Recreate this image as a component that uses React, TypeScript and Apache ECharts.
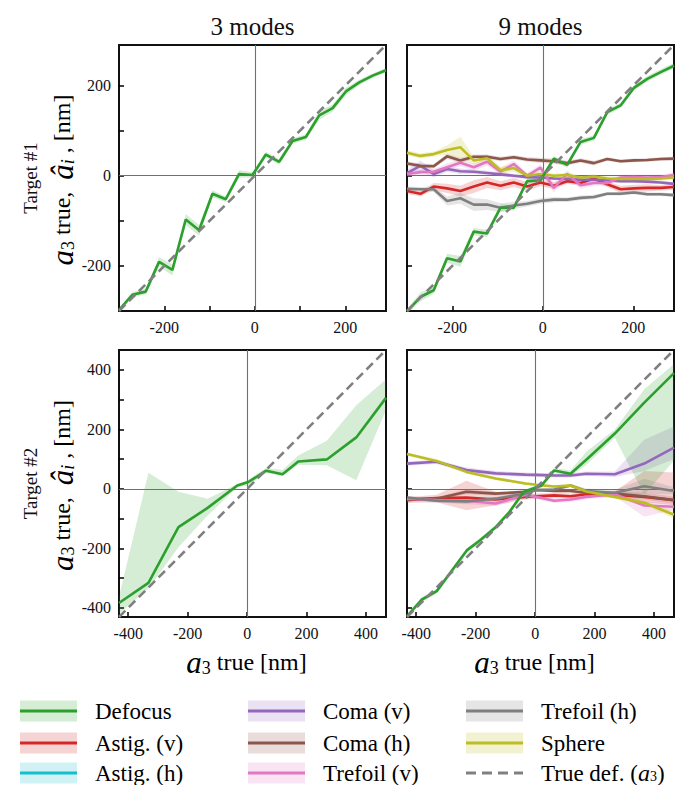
import React, { useEffect, useRef } from "react";
import * as echarts from "echarts";

const FONT = "Liberation Serif";

// ---------- x positions ----------
const TOP_X = [-300, -270.5, -241, -211.5, -182, -152.5, -123, -93.5, -64, -34.5, -5, 24.5, 54, 83.5, 113, 142.5, 172, 201.5, 231, 260.5, 290];
const BOTTOM_X = [-431, -332, -231, -133, -33, 4, 64, 119, 172, 268, 367, 467];
const BR_DEF_X = [-431, -382, -331, -281, -230, -185, -134, -89, -38, -2, 20, 64, 119, 172, 268, 367, 467];

const TOP_RANGE = [-300, 290];
const BOTTOM_RANGE = [-431, 467];

// ---------- ticks ----------
const TL_TICKS = [-200, -100, 0, 100, 200];
const TOP_LABELS = [-200, 0, 200];
const TR_TICKS = [-200, 0, 200];
const BOTTOM_X_TICKS = [-400, -200, 0, 200, 400];
const BOTTOM_LABELS = [-400, -200, 0, 200, 400];
const BL_Y_TICKS = [-400, -300, -200, -100, 0, 100, 200, 300, 400];
const BR_Y_TICKS = [-400, -200, 0, 200, 400];

// ---------- texts ----------
const PANEL_TITLES = ["3 modes", "9 modes"];
const ROW_TITLES = ["Target #1", "Target #2"];
const MODE_NAMES = ["Defocus", "Astig. (v)", "Astig. (h)", "Coma (v)", "Coma (h)", "Trefoil (v)", "Trefoil (h)", "Sphere"];
const TRUE_NAME = "True def. ";
const MODE_COLORS = ["#2ca02c", "#d62728", "#17becf", "#9467bd", "#8c564b", "#e377c2", "#7f7f7f", "#bcbd22"];
const TRUE_COLOR = "#808080";

// ---------- Top-left (3 modes, target 1) ----------
const TL_DEFOCUS = [-298, -264, -257, -191, -209, -97, -121, -40, -52, 4, 1.5, 47, 31, 77, 86, 134, 150, 187, 207, 222, 234];
const TL_DEFOCUS_SPREAD = [4, 6, 6, 10, 12, 12, 12, 8, 6, 8, 6, 6, 6, 6, 6, 10, 8, 8, 6, 5, 5];

// ---------- Top-right (9 modes, target 1) ----------
const TR_DEFOCUS = [-301, -269, -254, -183, -190, -124, -128, -71, -71, -12, -10, 38, 24, 75, 84, 141, 156, 195, 215, 230, 244];
const TR_ASTIG_V = [-34, -40, -24, -28, -34, -24, -15, -22, -15, -24, -15, -22, -12, -16, -6, -19, -30, -28, -27, -27, -25];
const TR_COMA_V = [6, 22, 4, 15, 10, 9, 6, 3, 0, -3, -4, -6, -7, -9, -9, -10, -12, -12, -13, -15, -18];
const TR_COMA_H = [27, 22, 21, 43, 34, 42, 42, 37, 41, 36, 34, 32, 28, 34, 28, 37, 32, 34, 35, 37, 38];
const TR_TREFOIL_V = [4, 8, 9, 19, 29, 19, 31, 9, 26, 0, 18, -27, 4, -21, -16, -16, -4, -3, -4, -3, 1.5];
const TR_TREFOIL_H = [-29, -30, -30, -56, -50, -64, -64, -71, -66, -62, -56, -53, -53, -49, -47, -40, -40, -37, -41, -41, -43];
const TR_SPHERE = [51, 44, 48, 57, 63, 34, 39, 12, 17, 0, 4, 0, 1.5, -4, -1.5, -6, -7, -7, -7, -6, -4];

const TR_DEFOCUS_SPREAD = [5, 10, 8, 10, 12, 8, 8, 8, 6, 6, 6, 6, 6, 6, 6, 6, 6, 6, 6, 6, 6];
const TR_ASTIG_V_SPREAD = [6, 6, 8, 10, 12, 14, 12, 10, 10, 10, 8, 8, 6, 6, 6, 6, 8, 8, 8, 6, 6];
const TR_COMA_V_SPREAD = [6, 12, 8, 6, 6, 5, 5, 4, 4, 4, 4, 4, 4, 4, 4, 4, 4, 4, 4, 4, 4];
const TR_COMA_H_SPREAD = [5, 5, 5, 6, 6, 5, 5, 5, 5, 5, 6, 6, 5, 5, 5, 4, 4, 4, 4, 4, 4];
const TR_TREFOIL_V_SPREAD = [6, 6, 6, 8, 8, 8, 8, 8, 8, 6, 8, 10, 8, 8, 6, 6, 6, 6, 6, 6, 6];
const TR_TREFOIL_H_SPREAD = [5, 5, 6, 10, 12, 14, 12, 10, 8, 6, 6, 6, 5, 5, 5, 4, 4, 4, 4, 4, 4];
const TR_SPHERE_SPREAD = [6, 6, 6, 10, 24, 8, 8, 8, 8, 6, 6, 5, 5, 5, 5, 5, 5, 5, 5, 5, 5];

// ---------- Bottom-left (3 modes, target 2) ----------
const BL_DEFOCUS = [-384, -316, -129, -64, 11, 23, 61, 49, 92, 99, 173, 306];
const BL_DEFOCUS_HI = [-364, 54, -10, -33, 16, 31, 70, 63, 112, 162, 281, 369];
const BL_DEFOCUS_LO = [-420, -335, -196, -90, 5, 12, 54, 43, 81, 79, 29, 265];

// ---------- Bottom-right (9 modes, target 2) ----------
const BR_DEFOCUS = [-429, -373, -344, -276, -207, -173, -130, -81, -10, 3, 10, 62, 51, 98, 186, 290, 389];
const BR_DEFOCUS_HI = [-420, -365, -336, -268, -200, -165, -122, -73, -3, 10, 17, 70, 62, 125, 200, 335, 420];
const BR_DEFOCUS_LO = [-437, -381, -352, -284, -214, -181, -138, -89, -17, -4, 3, 55, 44, 80, 172, -20, 95];

const BR_ASTIG_V = [-38, -31, -29, -36, -27, -25, -22, -25, -18, -20, -27, -38];
const BR_ASTIG_V_HI = [-28, -20, 27, -10, -18, -16, -14, -16, -10, -8, 60, 55];
const BR_ASTIG_V_LO = [-48, -45, -72, -55, -36, -34, -30, -34, -26, -30, -45, -55];
const BR_COMA_V = [85, 91, 63, 52, 48, 47, 45, 45, 51, 49, 85, 139];
const BR_COMA_V_HI = [92, 98, 72, 60, 55, 54, 52, 53, 58, 58, 165, 210];
const BR_COMA_V_LO = [78, 84, 55, 44, 41, 40, 38, 38, 44, 40, 60, 100];
const BR_COMA_H = [-36, -33, -10, -16, -10, -4, -7, -7, -13, -16, -25, -38];
const BR_COMA_H_SPREAD = [6, 6, 8, 6, 5, 5, 5, 5, 6, 8, 12, 12];
const BR_TREFOIL_V = [-33, -38, -40, -49, -21, -27, -40, -36, -27, -18, -56, -60];
const BR_TREFOIL_V_HI = [-25, -30, -30, -40, -13, -19, -32, -28, -19, -10, -40, -50];
const BR_TREFOIL_V_LO = [-41, -46, -52, -58, -29, -35, -48, -44, -35, -26, -94, -70];
const BR_TREFOIL_H = [-29, -40, -42, -33, -16, -4, -2, 11, -7, -13, 9, -7];
const BR_TREFOIL_H_SPREAD = [6, 6, 8, 6, 5, 5, 5, 6, 8, 10, 25, 12];
const BR_SPHERE = [117, 94, 57, 35, 18, 14, 8, 11, -9, -27, -47, -87];
const BR_SPHERE_SPREAD = [6, 6, 6, 5, 5, 5, 5, 5, 6, 6, 8, 13];

// ---------- layout ----------
const GRIDS = [
  { left: 119, top: 45, width: 267, height: 266 },
  { left: 407, top: 45, width: 267, height: 266 },
  { left: 119, top: 350, width: 267, height: 267 },
  { left: 407, top: 350, width: 267, height: 267 },
];

function rgba(hex: string, a: number) {
  const n = parseInt(hex.slice(1), 16);
  return `rgba(${(n >> 16) & 255},${(n >> 8) & 255},${n & 255},${a})`;
}

type Spec = { mode: number; x: number[]; y: number[]; lo: number[]; hi: number[] };

function sym(mode: number, x: number[], y: number[], s: number[]): Spec {
  return { mode, x, y, lo: y.map((v, i) => v - s[i]), hi: y.map((v, i) => v + s[i]) };
}

const PANELS: Spec[][] = [
  [sym(0, TOP_X, TL_DEFOCUS, TL_DEFOCUS_SPREAD)],
  [
    sym(1, TOP_X, TR_ASTIG_V, TR_ASTIG_V_SPREAD),
    sym(3, TOP_X, TR_COMA_V, TR_COMA_V_SPREAD),
    sym(4, TOP_X, TR_COMA_H, TR_COMA_H_SPREAD),
    sym(5, TOP_X, TR_TREFOIL_V, TR_TREFOIL_V_SPREAD),
    sym(6, TOP_X, TR_TREFOIL_H, TR_TREFOIL_H_SPREAD),
    sym(7, TOP_X, TR_SPHERE, TR_SPHERE_SPREAD),
    sym(0, TOP_X, TR_DEFOCUS, TR_DEFOCUS_SPREAD),
  ],
  [{ mode: 0, x: BOTTOM_X, y: BL_DEFOCUS, lo: BL_DEFOCUS_LO, hi: BL_DEFOCUS_HI }],
  [
    { mode: 1, x: BOTTOM_X, y: BR_ASTIG_V, lo: BR_ASTIG_V_LO, hi: BR_ASTIG_V_HI },
    { mode: 3, x: BOTTOM_X, y: BR_COMA_V, lo: BR_COMA_V_LO, hi: BR_COMA_V_HI },
    sym(4, BOTTOM_X, BR_COMA_H, BR_COMA_H_SPREAD),
    { mode: 5, x: BOTTOM_X, y: BR_TREFOIL_V, lo: BR_TREFOIL_V_LO, hi: BR_TREFOIL_V_HI },
    sym(6, BOTTOM_X, BR_TREFOIL_H, BR_TREFOIL_H_SPREAD),
    sym(7, BOTTOM_X, BR_SPHERE, BR_SPHERE_SPREAD),
    { mode: 0, x: BR_DEF_X, y: BR_DEFOCUS, lo: BR_DEFOCUS_LO, hi: BR_DEFOCUS_HI },
  ],
];

const RANGES = [TOP_RANGE, TOP_RANGE, BOTTOM_RANGE, BOTTOM_RANGE];
const X_TICKS = [TL_TICKS, TR_TICKS, BOTTOM_X_TICKS, BOTTOM_X_TICKS];
const X_LABELS = [TOP_LABELS, TOP_LABELS, BOTTOM_LABELS, BOTTOM_LABELS];
const Y_TICKS = [TL_TICKS, TR_TICKS, BL_Y_TICKS, BR_Y_TICKS];
const Y_LABELS = [TOP_LABELS, [], BOTTOM_LABELS, []];

function makeAxis(g: number, range: number[], ticks: number[], labels: number[]) {
  return {
    type: "value",
    gridIndex: g,
    min: range[0],
    max: range[1],
    axisLine: { show: false, onZero: false },
    splitLine: { show: false },
    axisTick: {
      show: true,
      inside: true,
      length: 5,
      customValues: ticks,
      lineStyle: { color: "#000", width: 1.5 },
    },
    axisLabel: {
      show: labels.length > 0,
      customValues: labels,
      fontFamily: FONT,
      fontSize: 16,
      color: "#111",
      margin: 8,
      formatter: (v: number) => String(v),
    },
  };
}

const MATH_RICH = {
  t: { fontSize: 24, fontFamily: FONT, color: "#111", lineHeight: 30 },
  it: { fontSize: 31, fontFamily: FONT, fontStyle: "italic", color: "#111", lineHeight: 30 },
  sub: { fontSize: 18, fontFamily: FONT, color: "#111", lineHeight: 16, verticalAlign: "bottom" },
  subi: { fontSize: 18, fontFamily: FONT, fontStyle: "italic", color: "#111", lineHeight: 16, verticalAlign: "bottom" },
};

const LEGEND_RICH = {
  t: { fontSize: 23, fontFamily: FONT, color: "#111", lineHeight: 20 },
  it: { fontSize: 24, fontFamily: FONT, fontStyle: "italic", color: "#111", lineHeight: 20 },
  sub: { fontSize: 14, fontFamily: FONT, color: "#111", lineHeight: 10, verticalAlign: "bottom" },
};

function buildOption() {
  const series: any[] = [];
  PANELS.forEach((specs, g) => {
    const range = RANGES[g];
    specs.forEach((s) => {
      const data = s.x.map((x, i) => [x, s.lo[i], s.hi[i]]);
      const color = MODE_COLORS[s.mode];
      series.push({
        type: "custom",
        xAxisIndex: g,
        yAxisIndex: g,
        silent: true,
        clip: true,
        z: 1,
        data,
        encode: { x: 0, y: [1, 2] },
        renderItem: (params: any, api: any) => {
          if (params.dataIndex !== 0) return null;
          const pts: number[][] = [];
          for (let i = 0; i < data.length; i++) pts.push(api.coord([data[i][0], data[i][2]]));
          for (let i = data.length - 1; i >= 0; i--) pts.push(api.coord([data[i][0], data[i][1]]));
          return { type: "polygon", shape: { points: pts }, style: { fill: rgba(color, 0.2) } };
        },
      });
    });
    specs.forEach((s) => {
      series.push({
        type: "line",
        xAxisIndex: g,
        yAxisIndex: g,
        silent: true,
        clip: true,
        symbol: "none",
        z: 3,
        data: s.x.map((x, i) => [x, s.y[i]]),
        lineStyle: { color: MODE_COLORS[s.mode], width: 2.6 },
        itemStyle: { color: MODE_COLORS[s.mode] },
      });
    });
    series.push({
      type: "line",
      xAxisIndex: g,
      yAxisIndex: g,
      silent: true,
      clip: true,
      symbol: "none",
      z: 4,
      data: [
        [range[0], range[0]],
        [range[1], range[1]],
      ],
      lineStyle: { color: TRUE_COLOR, width: 2.6, type: [9, 5] },
      markLine: {
        silent: true,
        z: 2,
        symbol: ["none", "none"],
        label: { show: false },
        lineStyle: { color: "#707070", width: 1.1, type: "solid" },
        data: [{ xAxis: 0 }, { yAxis: 0 }],
      },
    });
  });

  const graphic: any[] = [];
  const txt = (font: string) => ({ font: `${font} ${FONT}`, fill: "#111" });
  PANEL_TITLES.forEach((t, i) => {
    const g = GRIDS[i];
    graphic.push({
      type: "text",
      x: g.left + g.width / 2,
      y: 26,
      style: { text: t, x: 0, y: 0, align: "center", verticalAlign: "middle", textAlign: "center", textVerticalAlign: "middle", ...txt("25px") },
    });
  });
  ROW_TITLES.forEach((t, r) => {
    const g = GRIDS[r * 2];
    const cy = g.top + g.height / 2;
    graphic.push({
      type: "text",
      x: 30,
      y: cy,
      rotation: Math.PI / 2,
      style: { text: t, x: 0, y: 0, align: "center", verticalAlign: "middle", textAlign: "center", textVerticalAlign: "middle", ...txt("19px") },
    });
    graphic.push({
      type: "text",
      x: 62,
      y: cy + 2,
      rotation: Math.PI / 2,
      style: {
        text: "{it|a}{sub|3}{t| true,  }{it|â}{subi|i}{t| , [nm]}",
        rich: MATH_RICH,
        x: 0,
        y: 0,
        align: "center",
        verticalAlign: "middle",
        textAlign: "center",
        textVerticalAlign: "middle",
      },
    });
  });
  [2, 3].forEach((gi) => {
    const g = GRIDS[gi];
    graphic.push({
      type: "text",
      x: g.left + g.width / 2 - 6,
      y: 662,
      style: {
        text: "{it|a}{sub|3}{t| true [nm]}",
        rich: MATH_RICH,
        x: 0,
        y: 0,
        align: "center",
        verticalAlign: "middle",
        textAlign: "center",
        textVerticalAlign: "middle",
      },
    });
  });

  const colX = [20, 248, 466];
  const rowY = [711, 743, 773];
  const entries = MODE_NAMES.map((n, i) => ({ text: `{t|${n}}`, color: MODE_COLORS[i], dashed: false }));
  entries.push({ text: `{t|${TRUE_NAME}(}{it|a}{sub|3}{t|)}`, color: TRUE_COLOR, dashed: true });
  entries.forEach((e, i) => {
    const x = colX[Math.floor(i / 3)];
    const y = rowY[i % 3];
    if (!e.dashed) {
      graphic.push({ type: "rect", shape: { x, y: y - 10.5, width: 57, height: 21 }, style: { fill: rgba(e.color, 0.2) } });
    }
    graphic.push({
      type: "line",
      shape: { x1: x, y1: y, x2: x + 57, y2: y },
      style: { stroke: e.color, lineWidth: 3, lineDash: e.dashed ? [10, 6] : null },
    });
    graphic.push({
      type: "text",
      x: x + 75,
      y: y,
      style: { text: e.text, rich: LEGEND_RICH, x: 0, y: 0, align: "left", verticalAlign: "middle", textAlign: "left", textVerticalAlign: "middle" },
    });
  });

  return {
    animation: false,
    backgroundColor: "#fff",
    grid: GRIDS.map((g) => ({ ...g, show: true, borderColor: "#111", borderWidth: 2, backgroundColor: "transparent" })),
    xAxis: GRIDS.map((_, g) => makeAxis(g, RANGES[g], X_TICKS[g], X_LABELS[g])),
    yAxis: GRIDS.map((_, g) => makeAxis(g, RANGES[g], Y_TICKS[g], Y_LABELS[g])),
    series,
    graphic,
  };
}

export default function App() {
  const ref = useRef<HTMLDivElement>(null);
  useEffect(() => {
    document.body.style.margin = "0";
    if (!ref.current) return;
    const chart = echarts.init(ref.current, undefined, { renderer: "svg" });
    chart.setOption(buildOption() as any);
    return () => chart.dispose();
  }, []);
  return <div ref={ref} style={{ width: 686, height: 785 }} />;
}
